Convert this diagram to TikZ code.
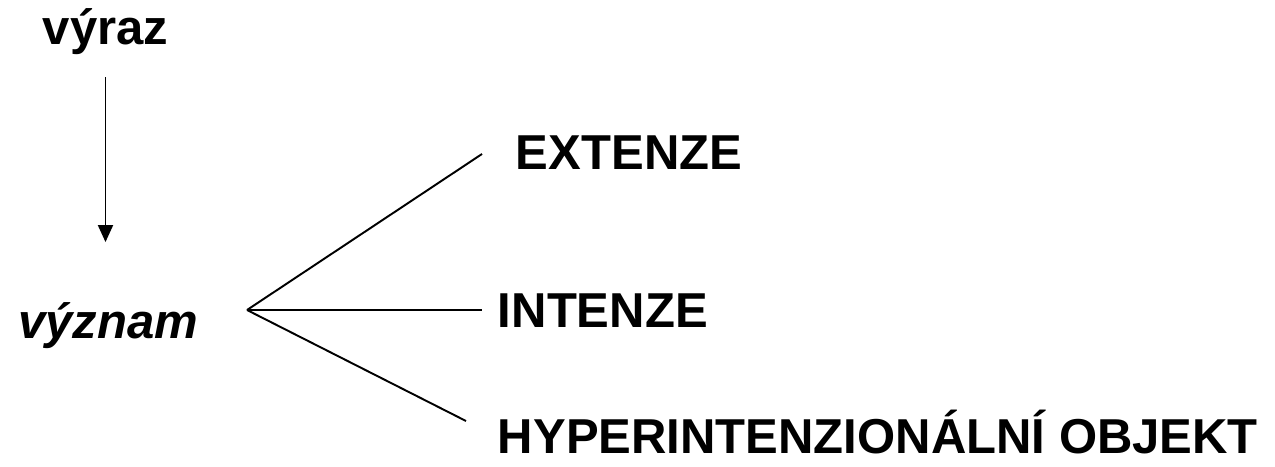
\documentclass[tikz,border=0pt]{standalone}
\usepackage{fontspec}
\setmainfont{Liberation Sans}
\usetikzlibrary{arrows.meta,positioning}

\begin{document}
\begin{tikzpicture}[line width=1.1pt,
  word/.style={inner sep=0pt,font=\fontsize{27.9}{32}\selectfont\bfseries},
  arr/.style={-{Triangle[width=0.3cm,length=0.34cm]}}]
 \useasboundingbox (0,0) rectangle (25.5,9.32);
 \node[word,anchor=base] (vyraz) at (2.11,8.42) {výraz};
 \node[word,anchor=base] (vyznam) at (2.16,2.56) {\itshape význam};
 \coordinate (fork) at (4.94,3.12);
 \coordinate (e_ext) at (9.64,6.24);
 \coordinate (e_int) at (9.64,3.12);
 \coordinate (e_hyp) at (9.32,0.90);
 \node[word,anchor=base west] (ext) at (10.30,5.92) {EXTENZE};
 \node[word,anchor=base west] (int) at (9.94,2.78) {INTENZE};
 \node[word,anchor=base west] (hyp) at (9.94,0.26) {HYPERINTENZIONÁLNÍ OBJEKT};
 \draw[arr,shorten <=0.42cm,shorten >=1.18cm] (vyraz.south) -- (vyraz.south |- vyznam.north);
 \draw (fork) -- (e_ext);
 \draw (fork) -- (e_int);
 \draw (fork) -- (e_hyp);
\end{tikzpicture}
\end{document}
